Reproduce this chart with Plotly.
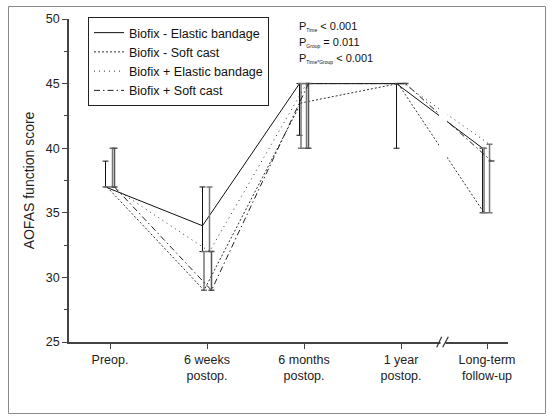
import plotly.graph_objects as go

# Time points and group medians (AOFAS function score)
timepoints = ["Preop.", "6 weeks<br>postop.", "6 months<br>postop.",
              "1 year<br>postop.", "Long-term<br>follow-up"]

biofix_minus_elastic = [37, 34, 45, 45, 40]
biofix_minus_softcast = [37, 29, 43.5, 45, 35]
biofix_plus_elastic = [37, 32, 45, 45, 40.3]
biofix_plus_softcast = [37, 29, 45, 45, 39]

# Upper / lower limits of the spread bars (None = no bar drawn)
upper_minus_elastic = [39, 37, 45, 45, 40]
lower_minus_elastic = [37, 32, 41, 40, 35]
upper_minus_softcast = [None, 32, 45, None, 40]
lower_minus_softcast = [None, 29, 40, None, 35]
upper_plus_elastic = [40, 37, 45, None, 40.3]
lower_plus_elastic = [37, 32, 40, None, 35]
upper_plus_softcast = [40, 32, 45, None, None]
lower_plus_softcast = [37, 29, 40, None, None]

# Horizontal layout of the time axis (long-term follow-up sits after an axis break)
x_positions = [0, 1, 2, 3, 3.887]
break_pos = 3.433
px_unit = 1 / 97.0  # one pixel in x data units

FONT = "Liberation Sans, Arial, sans-serif"


def spread(med, up, lo):
    plus = [None if u is None else u - m for u, m in zip(up, med)]
    minus = [None if l is None else m - l for l, m in zip(lo, med)]
    return plus, minus


series = [
    ("Biofix - Elastic bandage", biofix_minus_elastic, upper_minus_elastic,
     lower_minus_elastic, "solid", "#111111", -4.5, "#111111", 1.0),
    ("Biofix - Soft cast", biofix_minus_softcast, upper_minus_softcast,
     lower_minus_softcast, "2px,2px", "#333333", -3.0, "#777777", 1.5),
    ("Biofix + Elastic bandage", biofix_plus_elastic, upper_plus_elastic,
     lower_plus_elastic, "1px,4px", "#333333", 2.5, "#777777", 1.5),
    ("Biofix + Soft cast", biofix_plus_softcast, upper_plus_softcast,
     lower_plus_softcast, "6px,3px,1.5px,3px", "#222222", 4.5, "#555555", 1.5),
]

fig = go.Figure()
for name, med, up, lo, dash, color, off, ecolor, ethick in series:
    plus, minus = spread(med, up, lo)
    fig.add_trace(go.Scatter(
        x=[p + off * px_unit for p in x_positions],
        y=med,
        name=name,
        mode="lines",
        line=dict(color=color, width=1, dash=dash),
        error_y=dict(type="data", symmetric=False, array=plus, arrayminus=minus,
                     color=ecolor, thickness=ethick, width=3),
        hoverinfo="skip",
    ))

W, H = 554, 418
ML, MR, MT, MB = 69, 46, 19, 76
pw, ph = W - ML - MR, H - MT - MB


def px_x(x):
    return (x - ML) / pw


def px_y(y):
    return 1 - (y - MT) / ph


shapes = [
    # gap in the data lines at the axis break
    dict(type="rect", xref="x", yref="y", x0=break_pos - 4 * px_unit,
         x1=break_pos + 4 * px_unit, y0=25.15, y1=50,
         fillcolor="white", line=dict(width=0), layer="above"),
    # gap in the axis line between the break marks
    dict(type="rect", xref="x", yref="paper", x0=break_pos - 2.5 * px_unit,
         x1=break_pos + 2.5 * px_unit, y0=-0.008, y1=0.008,
         fillcolor="white", line=dict(width=0), layer="above"),
    # break marks
    dict(type="line", xref="x", yref="paper",
         x0=break_pos - 6.3 * px_unit, x1=break_pos - 1.3 * px_unit,
         y0=-0.0165, y1=0.0165, line=dict(color="#333333", width=1.2), layer="above"),
    dict(type="line", xref="x", yref="paper",
         x0=break_pos - 0.3 * px_unit, x1=break_pos + 5.3 * px_unit,
         y0=-0.0165, y1=0.0165, line=dict(color="#333333", width=1.2), layer="above"),
    # outer frame
    dict(type="rect", xref="paper", yref="paper",
         x0=px_x(8.5), x1=px_x(545.5), y0=px_y(413.5), y1=px_y(6.5),
         line=dict(color="#8a8a8a", width=1), fillcolor="rgba(0,0,0,0)"),
]

sub = '<sub><span style="font-size:5px">{}</span></sub>'
stats = [
    "P" + sub.format("Time") + " &lt; 0.001",
    "P" + sub.format("Group") + " = 0.011",
    "P" + sub.format("Time*Group") + " &lt; 0.001",
]
stat_rows = [27, 43, 59]
annotations = [
    dict(text=t, xref="paper", yref="paper", x=px_x(297), y=px_y(r),
         xanchor="left", yanchor="middle", showarrow=False,
         font=dict(family=FONT, size=11, color="#111111"))
    for t, r in zip(stats, stat_rows)
]

fig.update_layout(
    width=W, height=H,
    margin=dict(l=ML, r=MR, t=MT, b=MB),
    paper_bgcolor="white", plot_bgcolor="white",
    font=dict(family=FONT, size=12.5, color="#111111"),
    showlegend=True,
    legend=dict(x=px_x(88), y=px_y(17), xanchor="left", yanchor="top",
                bgcolor="white", bordercolor="#222222", borderwidth=1,
                font=dict(family=FONT, size=12.5, color="#111111"),
                tracegroupgap=0),
    xaxis=dict(range=[-41 * px_unit, 398 * px_unit],
               tickvals=x_positions, ticktext=timepoints,
               showgrid=False, zeroline=False,
               showline=True, linecolor="#444444", linewidth=1.5,
               ticks="outside", ticklen=5, tickcolor="#444444", tickwidth=1.2,
               tickfont=dict(family=FONT, size=12.5, color="#222222")),
    yaxis=dict(range=[25, 50], tickvals=[25, 30, 35, 40, 45, 50],
               showgrid=False, zeroline=False,
               showline=True, linecolor="#444444", linewidth=1.5,
               ticks="outside", ticklen=5, tickcolor="#444444", tickwidth=1.2,
               minor=dict(dtick=2.5, tick0=25, ticks="outside", ticklen=3,
                          tickcolor="#444444", tickwidth=1.2, showgrid=False),
               tickfont=dict(family=FONT, size=12.5, color="#222222"),
               title=dict(text="AOFAS function score", standoff=8,
                          font=dict(family=FONT, size=14, color="#222222"))),
    shapes=shapes,
    annotations=annotations,
)

fig.write_html("out.html")
